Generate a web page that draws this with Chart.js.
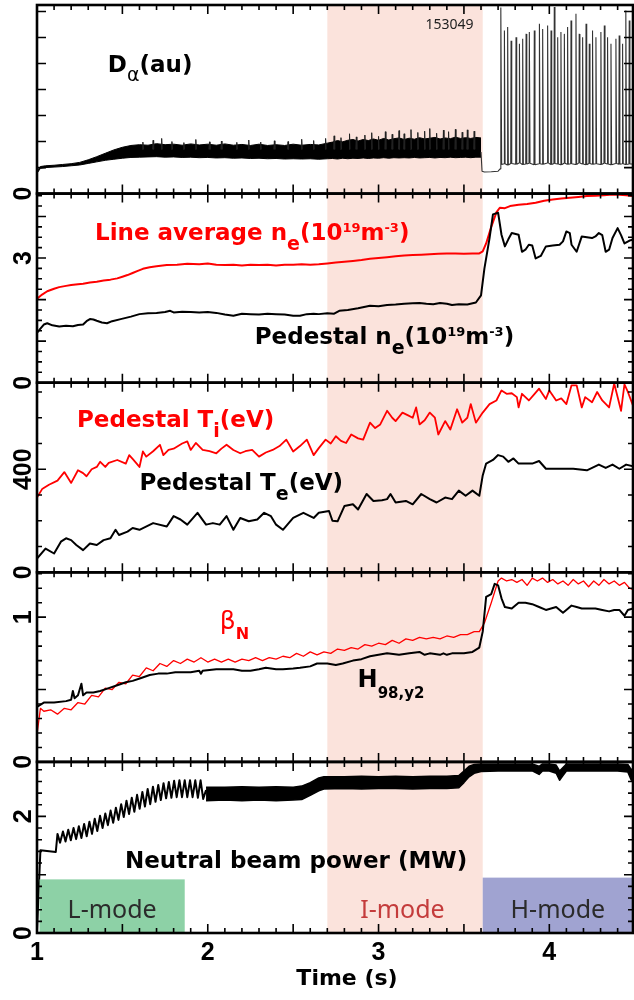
<!DOCTYPE html>
<html>
<head>
<meta charset="utf-8">
<script src="https://cdn.jsdelivr.net/npm/chart.js@4.4.1/dist/chart.umd.min.js"></script>
<style>
  html, body { margin: 0; padding: 0; background: #fff; }
  #wrap { width: 634px; height: 1000px; }
</style>
</head>
<body>
<div id="wrap"><canvas id="shot" width="634" height="1000"></canvas></div>
<script>
// Shot 153049: L-mode -> I-mode -> H-mode time traces, five stacked panels

const xRange = [1, 4.49];
const xLabels = [1, 2, 3, 4];
const iModeSpan = [2.70, 3.61];

// D-alpha: noisy band (lower / upper edge), spikes on top, then drop and ELMs
const daTime = [1.00, 1.02, 1.05, 1.10, 1.15, 1.20, 1.25, 1.30, 1.35, 1.40, 1.45, 1.50, 1.55, 1.60, 1.65, 1.70, 1.75, 1.80,
  1.85, 1.90, 1.95, 2.00, 2.05, 2.10, 2.15, 2.20, 2.25, 2.30, 2.35, 2.40, 2.45, 2.50, 2.55, 2.60, 2.65, 2.70,
  2.73, 2.76, 2.79, 2.82, 2.85, 2.88, 2.91, 2.94, 2.97, 3.00, 3.03, 3.06, 3.09, 3.12, 3.15, 3.18, 3.21, 3.24,
  3.27, 3.30, 3.33, 3.36, 3.39, 3.42, 3.45, 3.48, 3.51, 3.54, 3.57, 3.60];
const daLow = [0.78, 0.97, 1.00, 1.02, 1.04, 1.07, 1.10, 1.16, 1.22, 1.28, 1.32, 1.36, 1.39, 1.40, 1.41, 1.42, 1.40, 1.41,
  1.39, 1.40, 1.38, 1.39, 1.37, 1.38, 1.36, 1.37, 1.35, 1.36, 1.34, 1.35, 1.33, 1.34, 1.33, 1.34, 1.32, 1.34,
  1.35, 1.33, 1.36, 1.34, 1.36, 1.35, 1.37, 1.35, 1.37, 1.36, 1.38, 1.36, 1.38, 1.37, 1.38, 1.37, 1.39, 1.37,
  1.38, 1.39, 1.37, 1.39, 1.38, 1.40, 1.38, 1.39, 1.40, 1.38, 1.40, 1.40];
const daHigh = [0.86, 1.04, 1.07, 1.09, 1.12, 1.15, 1.20, 1.30, 1.42, 1.55, 1.68, 1.78, 1.85, 1.88, 1.86, 1.92, 1.88, 1.90,
  1.86, 1.91, 1.87, 1.90, 1.86, 1.91, 1.86, 1.89, 1.85, 1.90, 1.85, 1.88, 1.85, 1.90, 1.86, 1.89, 1.87, 1.94,
  1.98, 2.04, 1.99, 2.05, 2.08, 2.02, 2.08, 2.04, 2.10, 2.05, 2.12, 2.06, 2.11, 2.14, 2.08, 2.13, 2.09, 2.15,
  2.10, 2.13, 2.16, 2.10, 2.14, 2.11, 2.17, 2.12, 2.15, 2.12, 2.16, 2.14];
const daSpikeTime = [1.62, 1.68, 1.73, 1.79, 1.86, 1.93, 2.01, 2.08, 2.17, 2.24,
  2.31, 2.39, 2.47, 2.55, 2.62, 2.69, 2.74, 2.78, 2.83, 2.87,
  2.92, 2.96, 3.00, 3.04, 3.08, 3.12, 3.15, 3.19, 3.23, 3.27,
  3.30, 3.34, 3.38, 3.41, 3.45, 3.49, 3.52, 3.56];
const daSpikePeak = [1.98, 2.05, 2.12, 2.00, 1.96, 2.08, 1.99, 2.02, 1.97, 2.06,
  1.98, 2.03, 2.00, 2.09, 2.04, 2.12, 2.22, 2.15, 2.30, 2.18,
  2.25, 2.34, 2.20, 2.38, 2.28, 2.42, 2.30, 2.46, 2.35, 2.40,
  2.50, 2.32, 2.44, 2.38, 2.47, 2.36, 2.45, 2.40];
const dipTime = [3.600, 3.606, 3.62, 3.66, 3.70, 3.712];
const dipVal = [1.60, 0.86, 0.83, 0.84, 0.86, 0.95];
const elmTime = [3.717, 3.737, 3.756, 3.776, 3.805, 3.825, 3.844, 3.864, 3.883, 3.912,
  3.942, 3.961, 3.990, 4.010, 4.029, 4.049, 4.068, 4.088, 4.107, 4.127,
  4.156, 4.175, 4.195, 4.215, 4.234, 4.253, 4.273, 4.302, 4.322, 4.341,
  4.361, 4.390, 4.409, 4.429, 4.448, 4.468];
const elmPeak = [7.15, 6.27, 6.40, 5.88, 6.01, 5.76, 5.95, 6.14, 6.21, 6.27,
  6.53, 6.33, 6.46, 6.27, 7.17, 6.01, 6.21, 6.14, 6.40, 6.65,
  6.91, 6.14, 6.01, 6.53, 5.76, 6.27, 6.01, 6.21, 6.46, 6.01,
  5.76, 5.95, 6.08, 5.76, 7.04, 6.65];
const elmBase = [1.12, 1.15, 1.10, 1.16, 1.13, 1.18, 1.12, 1.14, 1.17, 1.11,
  1.15, 1.13, 1.18, 1.12, 1.16, 1.14, 1.11, 1.17, 1.13, 1.15,
  1.12, 1.18, 1.14, 1.11, 1.16, 1.13, 1.15, 1.12, 1.17, 1.14,
  1.11, 1.16, 1.13, 1.15, 1.12, 1.14];

// density (1e19 m^-3)
const neTime = [1.00, 1.03, 1.06, 1.10, 1.13, 1.17, 1.20, 1.24, 1.27, 1.31,
  1.35, 1.39, 1.43, 1.47, 1.50, 1.53, 1.56, 1.59, 1.62, 1.66,
  1.70, 1.76, 1.82, 1.88, 1.95, 2.00, 2.05, 2.10, 2.15, 2.20,
  2.25, 2.30, 2.35, 2.40, 2.45, 2.50, 2.55, 2.60, 2.65, 2.70,
  2.75, 2.80, 2.85, 2.90, 2.95, 3.00, 3.05, 3.10, 3.15, 3.20,
  3.25, 3.30, 3.35, 3.40, 3.45, 3.50, 3.55, 3.59, 3.61, 3.63,
  3.66, 3.69, 3.71, 3.74, 3.77, 3.82, 3.87, 3.92, 3.97, 4.02,
  4.07, 4.12, 4.17, 4.22, 4.27, 4.32, 4.37, 4.41, 4.45, 4.49];
const neLine = [2.02, 2.12, 2.20, 2.26, 2.30, 2.33, 2.35, 2.37, 2.38, 2.41,
  2.43, 2.46, 2.48, 2.51, 2.55, 2.59, 2.64, 2.69, 2.74, 2.78,
  2.80, 2.83, 2.84, 2.86, 2.85, 2.87, 2.84, 2.83, 2.84, 2.82,
  2.84, 2.83, 2.84, 2.82, 2.84, 2.84, 2.85, 2.84, 2.85, 2.87,
  2.89, 2.91, 2.93, 2.95, 2.98, 3.00, 3.02, 3.04, 3.06, 3.07,
  3.08, 3.09, 3.10, 3.11, 3.11, 3.10, 3.11, 3.11, 3.16, 3.35,
  3.75, 4.10, 4.21, 4.20, 4.25, 4.28, 4.30, 4.33, 4.38, 4.41,
  4.43, 4.45, 4.47, 4.49, 4.50, 4.51, 4.53, 4.52, 4.51, 4.49];
const pedNeTime = [1.00, 1.02, 1.04, 1.06, 1.09, 1.13, 1.17, 1.21, 1.24, 1.27,
  1.29, 1.31, 1.33, 1.35, 1.38, 1.41, 1.44, 1.49, 1.55, 1.60,
  1.65, 1.70, 1.75, 1.78, 1.80, 1.85, 1.90, 1.95, 2.00, 2.05,
  2.10, 2.15, 2.20, 2.25, 2.30, 2.35, 2.40, 2.45, 2.50, 2.54,
  2.58, 2.62, 2.65, 2.70, 2.74, 2.77, 2.82, 2.88, 2.95, 3.00,
  3.05, 3.10, 3.15, 3.20, 3.24, 3.28, 3.32, 3.36, 3.40, 3.43,
  3.47, 3.52, 3.57, 3.60, 3.62, 3.65, 3.67, 3.70, 3.72, 3.74,
  3.76, 3.78, 3.82, 3.84, 3.86, 3.88, 3.90, 3.92, 3.95, 3.98,
  4.02, 4.06, 4.08, 4.10, 4.12, 4.13, 4.16, 4.19, 4.22, 4.25,
  4.27, 4.29, 4.31, 4.33, 4.35, 4.37, 4.40, 4.42, 4.44, 4.47,
  4.49];
const pedNe = [1.20, 1.30, 1.40, 1.43, 1.38, 1.35, 1.37, 1.36, 1.39, 1.40,
  1.48, 1.53, 1.52, 1.49, 1.45, 1.43, 1.48, 1.53, 1.59, 1.65,
  1.67, 1.68, 1.70, 1.73, 1.69, 1.71, 1.70, 1.69, 1.70, 1.68,
  1.64, 1.61, 1.66, 1.65, 1.64, 1.66, 1.65, 1.64, 1.61, 1.61,
  1.65, 1.66, 1.65, 1.67, 1.66, 1.73, 1.75, 1.79, 1.85, 1.84,
  1.87, 1.88, 1.90, 1.91, 1.92, 1.90, 1.89, 1.92, 1.90, 1.87,
  1.89, 1.88, 1.93, 2.10, 2.75, 3.48, 4.05, 4.09, 3.56, 3.28,
  3.45, 3.60, 3.56, 3.15, 3.20, 3.32, 3.30, 2.99, 3.05, 3.28,
  3.30, 3.32, 3.40, 3.64, 3.60, 3.32, 3.15, 3.52, 3.50, 3.48,
  3.52, 3.60, 3.55, 3.15, 3.20, 3.48, 3.72, 3.55, 3.35, 3.42,
  3.44];

// pedestal temperatures (eV)
const tiTime = [1.00, 1.03, 1.07, 1.12, 1.16, 1.20, 1.24, 1.27, 1.29, 1.32,
  1.35, 1.37, 1.40, 1.42, 1.47, 1.52, 1.54, 1.56, 1.60, 1.62,
  1.64, 1.68, 1.72, 1.74, 1.77, 1.80, 1.85, 1.88, 1.90, 1.93,
  1.97, 2.01, 2.05, 2.08, 2.11, 2.15, 2.19, 2.22, 2.26, 2.30,
  2.34, 2.38, 2.42, 2.46, 2.50, 2.54, 2.58, 2.62, 2.65, 2.69,
  2.72, 2.75, 2.78, 2.81, 2.84, 2.88, 2.91, 2.95, 2.98, 3.01,
  3.05, 3.08, 3.10, 3.14, 3.17, 3.20, 3.22, 3.24, 3.27, 3.30,
  3.33, 3.35, 3.39, 3.42, 3.46, 3.49, 3.52, 3.54, 3.57, 3.61,
  3.65, 3.69, 3.72, 3.75, 3.78, 3.81, 3.82, 3.84, 3.88, 3.91,
  3.94, 3.98, 4.00, 4.04, 4.07, 4.10, 4.13, 4.16, 4.19, 4.21,
  4.25, 4.28, 4.31, 4.35, 4.38, 4.42, 4.44, 4.46, 4.49];
const ti = [290, 323, 340, 356, 389, 347, 396, 385, 373, 400,
  409, 429, 409, 425, 436, 422, 455, 440, 409, 469,
  449, 470, 495, 455, 475, 480, 500, 508, 475, 502,
  475, 470, 462, 480, 495, 475, 462, 470, 475, 449,
  465, 475, 490, 515, 469, 490, 515, 455, 482, 515,
  500, 528, 510, 502, 535, 520, 515, 581, 560, 574,
  627, 600, 587, 620, 610, 600, 640, 574, 590, 620,
  600, 535, 587, 554, 633, 581, 600, 653, 581, 620,
  653, 667, 706, 693, 695, 680, 640, 693, 667, 690,
  713, 673, 706, 667, 675, 653, 726, 726, 640, 680,
  660, 700, 667, 640, 733, 627, 730, 700, 647];
const teTime = [1.00, 1.05, 1.10, 1.14, 1.17, 1.20, 1.23, 1.27, 1.31, 1.35,
  1.39, 1.43, 1.46, 1.48, 1.53, 1.56, 1.60, 1.68, 1.76, 1.80,
  1.84, 1.88, 1.94, 1.99, 2.03, 2.07, 2.11, 2.15, 2.19, 2.24,
  2.29, 2.33, 2.37, 2.40, 2.44, 2.50, 2.56, 2.62, 2.65, 2.71,
  2.73, 2.76, 2.80, 2.85, 2.88, 2.93, 2.97, 3.02, 3.05, 3.07,
  3.10, 3.16, 3.20, 3.25, 3.30, 3.34, 3.39, 3.43, 3.47, 3.51,
  3.55, 3.59, 3.61, 3.63, 3.67, 3.70, 3.73, 3.76, 3.79, 3.82,
  3.90, 3.94, 3.98, 4.06, 4.14, 4.22, 4.29, 4.33, 4.37, 4.41,
  4.45, 4.49];
const te = [53, 92, 73, 119, 132, 125, 106, 86, 112, 106,
  125, 132, 165, 145, 158, 172, 165, 191, 178, 218,
  205, 185, 231, 185, 191, 185, 218, 165, 211, 198,
  205, 231, 218, 185, 165, 211, 231, 211, 231, 238,
  200, 198, 257, 264, 244, 304, 277, 280, 284, 304,
  271, 277, 264, 304, 284, 271, 290, 284, 317, 297,
  317, 297, 376, 422, 436, 455, 449, 429, 442, 422,
  422, 432, 402, 402, 402, 396, 418, 405, 418, 402,
  418, 412];

// confinement: beta_N and H98(y,2)
const betaTime = [1.00, 1.02, 1.04, 1.08, 1.12, 1.16, 1.20, 1.24, 1.28, 1.32,
  1.36, 1.40, 1.44, 1.48, 1.52, 1.56, 1.60, 1.64, 1.68, 1.72,
  1.76, 1.80, 1.84, 1.88, 1.92, 1.96, 2.00, 2.04, 2.08, 2.12,
  2.16, 2.20, 2.24, 2.28, 2.32, 2.36, 2.40, 2.44, 2.48, 2.52,
  2.56, 2.60, 2.64, 2.68, 2.72, 2.76, 2.80, 2.84, 2.88, 2.92,
  2.96, 3.00, 3.04, 3.08, 3.12, 3.16, 3.20, 3.24, 3.28, 3.32,
  3.36, 3.40, 3.44, 3.48, 3.52, 3.56, 3.59, 3.62, 3.66, 3.70,
  3.72, 3.75, 3.78, 3.81, 3.84, 3.87, 3.90, 3.93, 3.96, 3.99,
  4.02, 4.05, 4.08, 4.11, 4.14, 4.17, 4.20, 4.23, 4.26, 4.29,
  4.32, 4.35, 4.38, 4.41, 4.44, 4.47, 4.49];
const betaN = [0.19, 0.37, 0.35, 0.36, 0.33, 0.37, 0.36, 0.41, 0.40, 0.46,
  0.45, 0.51, 0.50, 0.55, 0.54, 0.60, 0.59, 0.65, 0.63, 0.68,
  0.66, 0.70, 0.68, 0.71, 0.69, 0.72, 0.69, 0.71, 0.69, 0.71,
  0.69, 0.71, 0.70, 0.72, 0.70, 0.72, 0.71, 0.73, 0.72, 0.75,
  0.73, 0.76, 0.74, 0.76, 0.75, 0.78, 0.77, 0.79, 0.78, 0.81,
  0.80, 0.82, 0.81, 0.84, 0.82, 0.85, 0.84, 0.86, 0.85, 0.86,
  0.85, 0.87, 0.86, 0.88, 0.88, 0.90, 0.90, 0.96, 1.10, 1.25,
  1.27, 1.25, 1.26, 1.24, 1.26, 1.22, 1.27, 1.25, 1.27, 1.24,
  1.26, 1.23, 1.25, 1.22, 1.26, 1.23, 1.25, 1.21, 1.25, 1.22,
  1.26, 1.23, 1.25, 1.22, 1.24, 1.20, 1.19];
const h98Time = [1.00, 1.04, 1.10, 1.17, 1.20, 1.21, 1.22, 1.24, 1.26, 1.27,
  1.29, 1.33, 1.37, 1.42, 1.47, 1.52, 1.56, 1.61, 1.66, 1.71,
  1.76, 1.81, 1.85, 1.90, 1.95, 1.96, 1.97, 2.05, 2.15, 2.20,
  2.25, 2.30, 2.34, 2.40, 2.44, 2.50, 2.54, 2.60, 2.64, 2.70,
  2.75, 2.79, 2.85, 2.90, 2.95, 3.00, 3.05, 3.12, 3.18, 3.24,
  3.27, 3.30, 3.36, 3.38, 3.40, 3.43, 3.50, 3.55, 3.59, 3.61,
  3.63, 3.66, 3.68, 3.70, 3.72, 3.74, 3.78, 3.82, 3.86, 3.90,
  3.94, 3.98, 4.01, 4.04, 4.08, 4.11, 4.13, 4.16, 4.19, 4.23,
  4.27, 4.31, 4.35, 4.38, 4.41, 4.44, 4.46, 4.49];
const h98 = [0.38, 0.41, 0.41, 0.42, 0.43, 0.49, 0.44, 0.46, 0.54, 0.46,
  0.48, 0.48, 0.49, 0.51, 0.53, 0.55, 0.56, 0.58, 0.60, 0.61,
  0.61, 0.62, 0.62, 0.62, 0.63, 0.61, 0.63, 0.64, 0.64, 0.63,
  0.63, 0.64, 0.65, 0.64, 0.64, 0.645, 0.65, 0.66, 0.68, 0.68,
  0.67, 0.68, 0.70, 0.71, 0.73, 0.74, 0.75, 0.74, 0.75, 0.76,
  0.74, 0.75, 0.74, 0.75, 0.74, 0.75, 0.75, 0.76, 0.79, 0.90,
  1.14, 1.16, 1.23, 1.22, 1.13, 1.07, 1.06, 1.10, 1.10, 1.09,
  1.07, 1.05, 1.06, 1.07, 1.03, 1.06, 1.08, 1.07, 1.06, 1.06,
  1.06, 1.05, 1.04, 1.05, 1.05, 1.01, 1.05, 1.06];

// neutral beam power (MW): modulated ramp, then a dense band
const nbTime = [1.000, 1.020, 1.110, 1.120, 1.135, 1.152, 1.167, 1.183, 1.198, 1.214, 1.229, 1.245, 1.260,
  1.276, 1.291, 1.307, 1.322, 1.338, 1.353, 1.369, 1.384, 1.400, 1.415,
  1.431, 1.446, 1.462, 1.477, 1.493, 1.508, 1.524, 1.539, 1.555, 1.570,
  1.586, 1.601, 1.617, 1.632, 1.648, 1.663, 1.679, 1.694, 1.710, 1.725,
  1.741, 1.756, 1.772, 1.787, 1.803, 1.818, 1.834, 1.849, 1.865, 1.880,
  1.896, 1.911, 1.927, 1.942, 1.958, 1.973, 1.990];
const nbPower = [0.05, 1.42, 1.39, 1.70, 1.55, 1.74, 1.57, 1.77, 1.59, 1.80, 1.61, 1.83, 1.63,
  1.87, 1.66, 1.91, 1.70, 1.96, 1.75, 2.01, 1.80, 2.05, 1.85,
  2.10, 1.89, 2.15, 1.94, 2.21, 1.99, 2.27, 2.04, 2.32, 2.08,
  2.37, 2.13, 2.42, 2.17, 2.47, 2.21, 2.51, 2.25, 2.54, 2.28,
  2.57, 2.31, 2.59, 2.32, 2.61, 2.33, 2.62, 2.33, 2.62, 2.33,
  2.62, 2.33, 2.62, 2.32, 2.62, 2.30, 2.45];
const nbBandTime = [1.99, 2.10, 2.20, 2.30, 2.40, 2.50, 2.55, 2.60, 2.65, 2.68,
  2.80, 2.90, 3.00, 3.10, 3.20, 3.30, 3.40, 3.47, 3.50, 3.53,
  3.56, 3.60, 3.70, 3.80, 3.90, 3.94, 3.96, 4.00, 4.04, 4.06,
  4.08, 4.10, 4.20, 4.30, 4.40, 4.46, 4.48, 4.49];
const nbBandLow = [2.27, 2.28, 2.27, 2.28, 2.27, 2.28, 2.29, 2.36, 2.44, 2.47,
  2.48, 2.47, 2.48, 2.48, 2.47, 2.48, 2.48, 2.49, 2.58, 2.68,
  2.74, 2.77, 2.78, 2.78, 2.78, 2.72, 2.78, 2.78, 2.74, 2.62,
  2.70, 2.78, 2.78, 2.78, 2.78, 2.76, 2.62, 2.65];
const nbBandHigh = [2.50, 2.50, 2.51, 2.50, 2.51, 2.50, 2.52, 2.58, 2.66, 2.68,
  2.68, 2.69, 2.68, 2.69, 2.68, 2.69, 2.69, 2.70, 2.78, 2.86,
  2.89, 2.90, 2.90, 2.90, 2.90, 2.86, 2.90, 2.90, 2.88, 2.78,
  2.84, 2.90, 2.90, 2.90, 2.90, 2.89, 2.80, 2.82];

const SANS = '"DejaVu Sans", Verdana, sans-serif';
const NUM = '"Liberation Sans", Arial, sans-serif';
const RED = '#ff0000';

// panels top to bottom: y range, relative height, tick spacing, labelled values
const panels = [
  { id: 'yDa', max: 7.25, weight: 188.5, step: 1, major: 1, labels: [0] },
  { id: 'yNe', max: 4.55, weight: 189, step: 0.25, major: 1, labels: [0, 3] },
  { id: 'yT', max: 736, weight: 189.5, step: 100, major: 400, labels: [0, 400] },
  { id: 'yB', max: 1.31, weight: 189.5, step: 0.1, major: 0.5, labels: [0, 1] },
  { id: 'yP', max: 2.935, weight: 171, step: 0.2, major: 1, labels: [0, 2] }
];

const TEXT = {
  main: { font: `bold 23px ${SANS}`, dy: 0 },
  sub: { font: `bold 19px ${SANS}`, dy: 10 },
  sup: { font: `bold 13px ${SANS}`, dy: -8 },
  alpha: { font: `19px ${SANS}`, dy: 9 },
  shot: { font: '14px "Noto Sans", sans-serif', dy: 0 },
  beta: { font: `25px ${SANS}`, dy: 0 },
  subN: { font: `bold 16px ${SANS}`, dy: 10 },
  h: { font: `bold 24px ${SANS}`, dy: 0 },
  subH: { font: `bold 15px ${SANS}`, dy: 11 }
};

// in-panel labels, anchored at (time, value) on the left baseline
const notes = [
  { axis: 'yDa', at: [1.415, 4.67], color: '#000', parts: [['D', 'main'], ['α', 'alpha'], ['(au)', 'main']] },
  { axis: 'yDa', at: [3.275, 6.33], color: '#222', parts: [['153049', 'shot']] },
  { axis: 'yNe', at: [1.34, 3.43], color: RED, parts: [['Line average n', 'main'], ['e', 'sub'], ['(10', 'main'], ['19', 'sup'], ['m', 'main'], ['-3', 'sup'], [')', 'main']] },
  { axis: 'yNe', at: [2.275, 0.93], color: '#000', parts: [['Pedestal n', 'main'], ['e', 'sub'], ['(10', 'main'], ['19', 'sup'], ['m', 'main'], ['-3', 'sup'], [')', 'main']] },
  { axis: 'yT', at: [1.234, 563], color: RED, parts: [['Pedestal T', 'main'], ['i', 'sub'], ['(eV)', 'main']] },
  { axis: 'yT', at: [1.60, 318], color: '#000', parts: [['Pedestal T', 'main'], ['e', 'sub'], ['(eV)', 'main']] },
  { axis: 'yB', at: [2.07, 0.917], color: RED, parts: [['β', 'beta'], ['N', 'subN']] },
  { axis: 'yB', at: [2.877, 0.516], color: '#000', parts: [['H', 'h'], ['98,y2', 'subH']] },
  { axis: 'yP', at: [1.515, 1.107], color: '#000', parts: [['Neutral beam power (MW)', 'main']] }
];

const modeBoxes = [
  { text: 'L-mode', from: 1.015, to: 1.865, top: 0.92, fill: '#8dd1a6', color: '#2b2b2b' },
  { text: 'I-mode', from: 2.70, to: 3.58, top: null, fill: null, color: '#c43c3c' },
  { text: 'H-mode', from: 3.61, to: 4.49, top: 0.95, fill: '#a0a3d1', color: '#2b2b2b' }
];
const modeBaseline = 0.25;

function series(ts, vs) {
  return ts.map((t, i) => ({ x: t, y: vs[i] }));
}

// thin spikes rising out of the D-alpha band, broken between spikes
function spikeTrace() {
  const pts = [];
  daSpikeTime.forEach((t, i) => {
    pts.push({ x: t - 0.003, y: 1.7 }, { x: t, y: daSpikePeak[i] }, { x: t + 0.003, y: 1.7 }, { x: t + 0.004, y: null });
  });
  return pts;
}

function elmTrace() {
  const pts = series(dipTime, dipVal);
  elmTime.forEach((t, i) => {
    pts.push({ x: t - 0.002, y: elmBase[i] }, { x: t, y: elmPeak[i] }, { x: t + 0.004, y: elmBase[i] });
  });
  pts.push({ x: xRange[1], y: 1.14 });
  return pts;
}

function line(yAxisID, data, color, width, extra) {
  return Object.assign({
    xAxisID: 'x', yAxisID, data, borderColor: color, borderWidth: width,
    pointRadius: 0, tension: 0, fill: false, borderJoinStyle: 'round'
  }, extra || {});
}

const datasets = [
  line('yB', series(h98Time, h98), '#000', 2),
  line('yB', series(betaTime, betaN), RED, 1.3),
  line('yNe', series(pedNeTime, pedNe), '#000', 2),
  line('yNe', series(neTime, neLine), RED, 2),
  line('yT', series(teTime, te), '#000', 2),
  line('yT', series(tiTime, ti), RED, 1.8),
  line('yDa', elmTrace(), '#333', 1.1, { borderJoinStyle: 'bevel' }),
  line('yDa', spikeTrace(), '#222', 1, { borderJoinStyle: 'bevel', spanGaps: false }),
  line('yDa', series(daTime, daLow), '#000', 1),
  line('yDa', series(daTime, daHigh), '#000', 1, { fill: '-1', backgroundColor: '#000' }),
  line('yP', series(nbTime, nbPower), '#000', 2),
  line('yP', series(nbBandTime, nbBandLow), '#000', 1.5),
  line('yP', series(nbBandTime, nbBandHigh), '#000', 1.5, { fill: '-1', backgroundColor: '#000' })
];

function drawRich(ctx, x, y, parts, color) {
  ctx.fillStyle = color;
  ctx.textAlign = 'left';
  ctx.textBaseline = 'alphabetic';
  for (const [text, style] of parts) {
    ctx.font = TEXT[style].font;
    ctx.fillText(text, x, y + TEXT[style].dy);
    x += ctx.measureText(text).width;
  }
}

const panelPlugin = {
  id: 'panels',
  beforeDatasetsDraw(chart) {
    const { ctx, chartArea: area } = chart;
    const xs = chart.scales.x;
    const x0 = xs.getPixelForValue(iModeSpan[0]);
    const x1 = xs.getPixelForValue(iModeSpan[1]);
    ctx.save();
    ctx.fillStyle = '#fbe3dc';
    ctx.fillRect(x0, area.top, x1 - x0, area.bottom - area.top);
    ctx.restore();
  },
  afterDatasetsDraw(chart) {
    const { ctx, chartArea: area } = chart;
    const xs = chart.scales.x;
    const yP = chart.scales.yP;
    ctx.save();

    // mode boxes in the power panel
    modeBoxes.forEach(b => {
      const x0 = xs.getPixelForValue(b.from);
      const x1 = xs.getPixelForValue(b.to);
      if (b.fill) {
        const top = yP.getPixelForValue(b.top);
        ctx.fillStyle = b.fill;
        ctx.fillRect(x0, top, x1 - x0, yP.bottom - top);
      }
      ctx.font = '25px "Noto Sans", sans-serif';
      ctx.fillStyle = b.color;
      ctx.textAlign = 'center';
      ctx.textBaseline = 'alphabetic';
      ctx.fillText(b.text, (x0 + x1) / 2, yP.getPixelForValue(modeBaseline));
    });

    // inward ticks on every panel edge
    ctx.strokeStyle = '#000';
    ctx.lineWidth = 1.6;
    ctx.beginPath();
    panels.forEach(p => {
      const ys = chart.scales[p.id];
      for (let k = 0; xRange[0] + k * 0.1 <= xRange[1] + 1e-9; k++) {
        const px = xs.getPixelForValue(xRange[0] + k * 0.1);
        const len = k % 5 === 0 ? 9 : 5;
        ctx.moveTo(px, ys.top); ctx.lineTo(px, ys.top + len);
        ctx.moveTo(px, ys.bottom); ctx.lineTo(px, ys.bottom - len);
      }
      const n = Math.floor(p.max / p.step + 1e-6);
      for (let k = 1; k <= n; k++) {
        const v = k * p.step;
        const py = ys.getPixelForValue(v);
        const r = v / p.major;
        const len = Math.abs(r - Math.round(r)) < 1e-6 ? 9 : 5;
        ctx.moveTo(area.left, py); ctx.lineTo(area.left + len, py);
        ctx.moveTo(area.right, py); ctx.lineTo(area.right - len, py);
      }
    });
    ctx.stroke();

    // panel frames
    ctx.lineWidth = 2.6;
    panels.forEach(p => {
      const ys = chart.scales[p.id];
      ctx.strokeRect(area.left, ys.top, area.right - area.left, ys.bottom - ys.top);
    });

    // rotated y labels
    ctx.fillStyle = '#000';
    ctx.font = `bold 25px ${NUM}`;
    ctx.textAlign = 'center';
    ctx.textBaseline = 'alphabetic';
    panels.forEach(p => {
      const ys = chart.scales[p.id];
      p.labels.forEach(v => {
        ctx.save();
        ctx.translate(22, ys.getPixelForValue(v));
        ctx.rotate(-Math.PI / 2);
        ctx.fillText(String(v), 0, 9);
        ctx.restore();
      });
    });

    // time axis labels
    xLabels.forEach(t => ctx.fillText(String(t), xs.getPixelForValue(t), 960));
    ctx.font = `bold 22px ${SANS}`;
    ctx.fillText('Time (s)', (area.left + area.right) / 2 + 12, 985);

    // in-panel labels
    notes.forEach(n => {
      const ys = chart.scales[n.axis];
      drawRich(ctx, xs.getPixelForValue(n.at[0]), ys.getPixelForValue(n.at[1]), n.parts, n.color);
    });
    ctx.restore();
  }
};

const scales = {
  x: {
    type: 'linear', position: 'bottom', min: xRange[0], max: xRange[1],
    ticks: { display: false }, grid: { display: false }, border: { display: false },
    afterFit: s => { s.height = 67; }
  }
};
// stacked left axes are laid out last-first, so add them bottom panel first
panels.slice().reverse().forEach(p => {
  scales[p.id] = {
    type: 'linear', position: 'left', stack: 'panels', stackWeight: p.weight,
    min: 0, max: p.max,
    ticks: { display: false }, grid: { display: false }, border: { display: false },
    afterFit: s => { s.width = 37; }
  };
});

new Chart(document.getElementById('shot'), {
  type: 'line',
  data: { datasets },
  options: {
    responsive: false,
    animation: false,
    devicePixelRatio: 1,
    parsing: false,
    normalized: true,
    layout: { padding: { top: 5, right: 1, left: 0, bottom: 0 } },
    plugins: { legend: { display: false }, tooltip: { enabled: false } },
    scales
  },
  plugins: [panelPlugin]
});
</script>
</body>
</html>
